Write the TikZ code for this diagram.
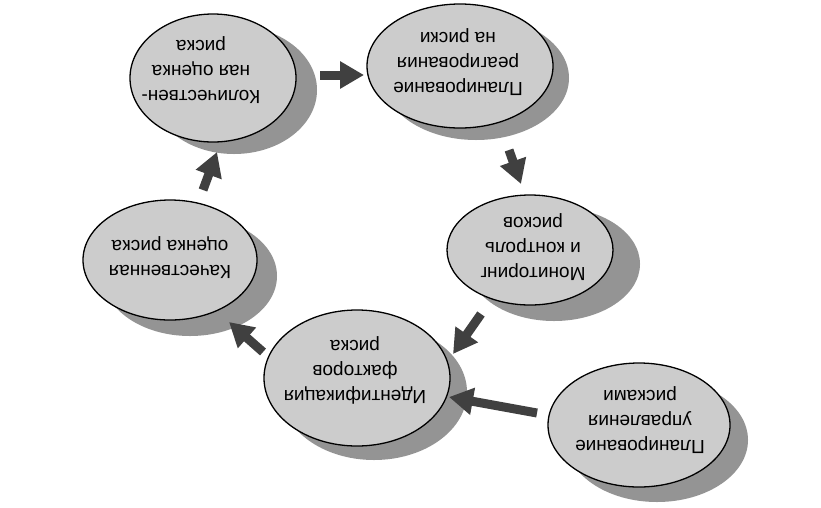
\documentclass[tikz,border=0pt]{standalone}
\usepackage{fontspec}
\setmainfont{Liberation Sans}
\usetikzlibrary{shapes.geometric,arrows.meta}
\definecolor{bubblefill}{gray}{0.80}
\definecolor{shadowfill}{gray}{0.58}
\definecolor{arrowcol}{gray}{0.25}
\tikzset{
  bubble/.style={ellipse, draw=black, line width=1.3pt, fill=bubblefill, inner sep=0pt},
  shade/.style={ellipse, fill=shadowfill, draw=none, inner sep=0pt},
  txt/.style={rotate=180, align=center, font=\fontsize{19}{25}\selectfont, inner sep=0pt},
  flow/.style={draw=arrowcol, line width=9pt, -{Triangle[length=24pt, width=26pt]}}
}
\begin{document}
\begin{tikzpicture}[x=1pt, y=-1pt]
\useasboundingbox[fill=white] (0,0) rectangle (821,507);
% shadows
\node[shade, minimum width=166, minimum height=128] (kolS) at (234,90) {};
\node[shade, minimum width=186, minimum height=124] (plrS) at (476,78) {};
\node[shade, minimum width=172, minimum height=114] (monS) at (554,264) {};
\node[shade, minimum width=174, minimum height=120] (kachS) at (190,276) {};
\node[shade, minimum width=186, minimum height=136] (identS) at (374,392) {};
\node[shade, minimum width=182, minimum height=124] (pluS) at (657,440) {};
% bubbles
\node[bubble, minimum width=166, minimum height=128] (kol) at (213,78) {};
\node[bubble, minimum width=186, minimum height=124] (plr) at (460,66) {};
\node[bubble, minimum width=166, minimum height=110] (mon) at (530,250) {};
\node[bubble, minimum width=174, minimum height=120] (kach) at (170,260) {};
\node[bubble, minimum width=186, minimum height=136] (ident) at (357,378) {};
\node[bubble, minimum width=182, minimum height=124] (plu) at (639,425) {};
% texts
\node[txt] (kolT) at (201,70) {Количествен-\\ная оценка\\риска};
\node[txt] (plrT) at (458,62) {Планирование\\реагирования\\на риски};
\node[txt] (monT) at (533,247) {Мониторинг\\и контроль\\рисков};
\node[txt] (kachT) at (170,258) {Качественная\\оценка риска};
\node[txt] (identT) at (355,370) {Идентификация\\факторов\\риска};
\node[txt] (pluT) at (640,420) {Планирование\\управления\\рисками};
% arrow ends
\coordinate (a1s) at (320,75);  \coordinate (a1e) at (364,75);
\coordinate (a2s) at (509,150); \coordinate (a2e) at (521,184);
\coordinate (a3s) at (481,314); \coordinate (a3e) at (453,354);
\coordinate (a4s) at (537,413); \coordinate (a4e) at (449,397);
\coordinate (a5s) at (263,352); \coordinate (a5e) at (229,322);
\coordinate (a6s) at (203,190); \coordinate (a6e) at (217,152);
\draw[flow] (a1s) -- (a1e);
\draw[flow] (a2s) -- (a2e);
\draw[flow] (a3s) -- (a3e);
\draw[flow] (a4s) -- (a4e);
\draw[flow] (a5s) -- (a5e);
\draw[flow] (a6s) -- (a6e);
\end{tikzpicture}
\end{document}
